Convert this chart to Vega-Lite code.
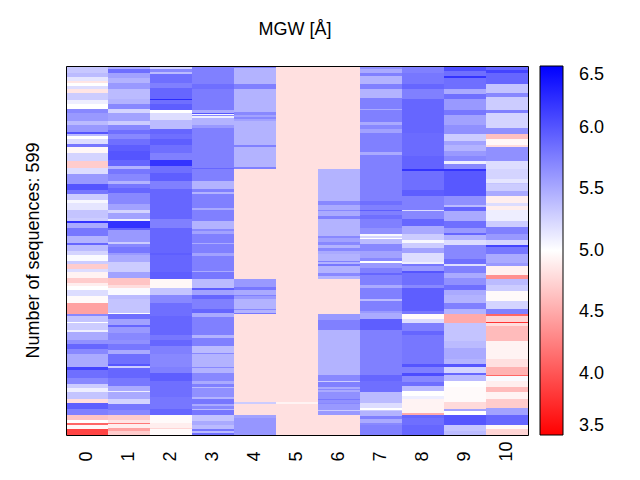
{"$schema":"https://vega.github.io/schema/vega-lite/v6.json","width":462,"height":369,"autosize":{"type":"none"},"padding":{"left":66,"top":66,"right":112,"bottom":45},"background":"white","view":{"stroke":null},"title":{"text":"MGW [Å]","font":"Liberation Sans","fontSize":18,"fontWeight":"normal","anchor":"middle","offset":27,"dx":-2,"color":"black"},"data":{"values":[
{"c":0,"a":0,"b":11,"v":5.33},{"c":0,"a":11,"b":18,"v":5.4},{"c":0,"a":18,"b":25,"v":5.15},{"c":0,"a":25,"b":28,"v":4.85},{"c":0,"a":28,"b":33,"v":5.0},{"c":0,"a":33,"b":38,"v":5.2},{"c":0,"a":38,"b":44,"v":4.85},{"c":0,"a":44,"b":55,"v":5.3},{"c":0,"a":55,"b":62,"v":5.1},{"c":0,"a":62,"b":70,"v":5.0},{"c":0,"a":70,"b":76,"v":5.7},{"c":0,"a":76,"b":90,"v":5.6},{"c":0,"a":90,"b":95,"v":5.4},{"c":0,"a":95,"b":107,"v":5.6},{"c":0,"a":107,"b":110,"v":6.0},{"c":0,"a":110,"b":114,"v":5.4},{"c":0,"a":114,"b":119,"v":5.0},{"c":0,"a":119,"b":127,"v":5.2},{"c":0,"a":127,"b":131,"v":5.8},{"c":0,"a":131,"b":141,"v":4.95},{"c":0,"a":141,"b":154,"v":5.25},{"c":0,"a":154,"b":165,"v":4.7},{"c":0,"a":165,"b":176,"v":5.2},{"c":0,"a":176,"b":192,"v":5.6},{"c":0,"a":192,"b":202,"v":6.0},{"c":0,"a":202,"b":207,"v":5.8},{"c":0,"a":207,"b":217,"v":5.3},{"c":0,"a":217,"b":222,"v":5.05},{"c":0,"a":222,"b":233,"v":5.15},{"c":0,"a":233,"b":246,"v":5.35},{"c":0,"a":246,"b":251,"v":5.3},{"c":0,"a":251,"b":255,"v":6.2},{"c":0,"a":255,"b":263,"v":5.5},{"c":0,"a":263,"b":276,"v":5.8},{"c":0,"a":276,"b":287,"v":5.45},{"c":0,"a":287,"b":290,"v":5.9},{"c":0,"a":290,"b":300,"v":5.4},{"c":0,"a":300,"b":307,"v":5.25},{"c":0,"a":307,"b":317,"v":5.03},{"c":0,"a":317,"b":321,"v":5.3},{"c":0,"a":321,"b":329,"v":4.7},{"c":0,"a":329,"b":334,"v":5.2},{"c":0,"a":334,"b":344,"v":4.93},{"c":0,"a":344,"b":352,"v":4.7},{"c":0,"a":352,"b":357,"v":4.9},{"c":0,"a":357,"b":364,"v":5.0},{"c":0,"a":364,"b":374,"v":5.2},{"c":0,"a":374,"b":384,"v":4.97},{"c":0,"a":384,"b":402,"v":4.45},{"c":0,"a":402,"b":406,"v":5.7},{"c":0,"a":406,"b":416,"v":5.35},{"c":0,"a":416,"b":418,"v":5.0},{"c":0,"a":418,"b":428,"v":5.3},{"c":0,"a":428,"b":431,"v":5.1},{"c":0,"a":431,"b":444,"v":5.5},{"c":0,"a":444,"b":452,"v":5.65},{"c":0,"a":452,"b":460,"v":5.9},{"c":0,"a":460,"b":468,"v":5.7},{"c":0,"a":468,"b":488,"v":5.5},{"c":0,"a":488,"b":493,"v":6.1},{"c":0,"a":493,"b":506,"v":5.85},{"c":0,"a":506,"b":517,"v":5.7},{"c":0,"a":517,"b":522,"v":5.3},{"c":0,"a":522,"b":530,"v":5.1},{"c":0,"a":530,"b":541,"v":5.35},{"c":0,"a":541,"b":547,"v":4.8},{"c":0,"a":547,"b":556,"v":5.95},{"c":0,"a":556,"b":566,"v":5.75},{"c":0,"a":566,"b":575,"v":4.65},{"c":0,"a":575,"b":580,"v":5.0},{"c":0,"a":580,"b":582,"v":4.1},{"c":0,"a":582,"b":590,"v":4.95},{"c":0,"a":590,"b":599,"v":3.9},
{"c":1,"a":0,"b":5,"v":5.5},{"c":1,"a":5,"b":11,"v":5.85},{"c":1,"a":11,"b":19,"v":5.55},{"c":1,"a":19,"b":27,"v":5.45},{"c":1,"a":27,"b":37,"v":5.6},{"c":1,"a":37,"b":54,"v":5.4},{"c":1,"a":54,"b":62,"v":5.45},{"c":1,"a":62,"b":70,"v":5.7},{"c":1,"a":70,"b":76,"v":5.25},{"c":1,"a":76,"b":90,"v":5.55},{"c":1,"a":90,"b":95,"v":5.3},{"c":1,"a":95,"b":104,"v":5.7},{"c":1,"a":104,"b":111,"v":5.85},{"c":1,"a":111,"b":119,"v":5.7},{"c":1,"a":119,"b":129,"v":5.85},{"c":1,"a":129,"b":138,"v":5.95},{"c":1,"a":138,"b":152,"v":6.0},{"c":1,"a":152,"b":162,"v":5.9},{"c":1,"a":162,"b":168,"v":5.45},{"c":1,"a":168,"b":176,"v":5.8},{"c":1,"a":176,"b":187,"v":5.7},{"c":1,"a":187,"b":192,"v":5.45},{"c":1,"a":192,"b":198,"v":5.8},{"c":1,"a":198,"b":206,"v":5.9},{"c":1,"a":206,"b":224,"v":5.7},{"c":1,"a":224,"b":233,"v":5.55},{"c":1,"a":233,"b":238,"v":5.25},{"c":1,"a":238,"b":249,"v":5.55},{"c":1,"a":249,"b":251,"v":5.1},{"c":1,"a":251,"b":263,"v":6.2},{"c":1,"a":263,"b":267,"v":5.9},{"c":1,"a":267,"b":276,"v":5.6},{"c":1,"a":276,"b":285,"v":5.6},{"c":1,"a":285,"b":289,"v":5.3},{"c":1,"a":289,"b":294,"v":5.7},{"c":1,"a":294,"b":303,"v":5.8},{"c":1,"a":303,"b":307,"v":5.6},{"c":1,"a":307,"b":318,"v":5.5},{"c":1,"a":318,"b":334,"v":5.3},{"c":1,"a":334,"b":344,"v":5.55},{"c":1,"a":344,"b":355,"v":4.65},{"c":1,"a":355,"b":360,"v":4.8},{"c":1,"a":360,"b":371,"v":5.03},{"c":1,"a":371,"b":379,"v":5.4},{"c":1,"a":379,"b":401,"v":5.35},{"c":1,"a":401,"b":403,"v":5.0},{"c":1,"a":403,"b":411,"v":5.85},{"c":1,"a":411,"b":420,"v":5.55},{"c":1,"a":420,"b":423,"v":5.9},{"c":1,"a":423,"b":433,"v":5.6},{"c":1,"a":433,"b":444,"v":5.7},{"c":1,"a":444,"b":452,"v":5.65},{"c":1,"a":452,"b":461,"v":5.8},{"c":1,"a":461,"b":468,"v":5.5},{"c":1,"a":468,"b":483,"v":5.85},{"c":1,"a":483,"b":487,"v":6.0},{"c":1,"a":487,"b":490,"v":5.3},{"c":1,"a":490,"b":506,"v":5.9},{"c":1,"a":506,"b":519,"v":5.8},{"c":1,"a":519,"b":528,"v":5.5},{"c":1,"a":528,"b":529,"v":5.1},{"c":1,"a":529,"b":540,"v":5.5},{"c":1,"a":540,"b":548,"v":5.25},{"c":1,"a":548,"b":558,"v":5.8},{"c":1,"a":558,"b":566,"v":5.7},{"c":1,"a":566,"b":574,"v":4.7},{"c":1,"a":574,"b":579,"v":4.85},{"c":1,"a":579,"b":581,"v":4.2},{"c":1,"a":581,"b":587,"v":4.9},{"c":1,"a":587,"b":593,"v":4.45},{"c":1,"a":593,"b":599,"v":4.7},
{"c":2,"a":0,"b":5,"v":5.25},{"c":2,"a":5,"b":9,"v":5.7},{"c":2,"a":9,"b":13,"v":5.4},{"c":2,"a":13,"b":28,"v":5.85},{"c":2,"a":28,"b":35,"v":5.75},{"c":2,"a":35,"b":54,"v":5.9},{"c":2,"a":54,"b":56,"v":6.25},{"c":2,"a":56,"b":62,"v":5.85},{"c":2,"a":62,"b":71,"v":5.95},{"c":2,"a":71,"b":76,"v":5.0},{"c":2,"a":76,"b":88,"v":5.2},{"c":2,"a":88,"b":103,"v":5.4},{"c":2,"a":103,"b":110,"v":5.9},{"c":2,"a":110,"b":119,"v":5.85},{"c":2,"a":119,"b":129,"v":5.95},{"c":2,"a":129,"b":141,"v":5.85},{"c":2,"a":141,"b":153,"v":5.75},{"c":2,"a":153,"b":163,"v":6.2},{"c":2,"a":163,"b":173,"v":5.85},{"c":2,"a":173,"b":187,"v":5.95},{"c":2,"a":187,"b":200,"v":5.75},{"c":2,"a":200,"b":249,"v":5.9},{"c":2,"a":249,"b":263,"v":5.75},{"c":2,"a":263,"b":303,"v":5.9},{"c":2,"a":303,"b":307,"v":5.95},{"c":2,"a":307,"b":334,"v":5.9},{"c":2,"a":334,"b":345,"v":5.95},{"c":2,"a":345,"b":360,"v":4.95},{"c":2,"a":360,"b":372,"v":5.35},{"c":2,"a":372,"b":384,"v":5.7},{"c":2,"a":384,"b":400,"v":5.85},{"c":2,"a":400,"b":406,"v":5.85},{"c":2,"a":406,"b":436,"v":5.9},{"c":2,"a":436,"b":444,"v":5.8},{"c":2,"a":444,"b":454,"v":5.9},{"c":2,"a":454,"b":468,"v":5.75},{"c":2,"a":468,"b":488,"v":5.7},{"c":2,"a":488,"b":498,"v":5.75},{"c":2,"a":498,"b":512,"v":5.95},{"c":2,"a":512,"b":537,"v":5.85},{"c":2,"a":537,"b":556,"v":5.8},{"c":2,"a":556,"b":566,"v":5.9},{"c":2,"a":566,"b":579,"v":4.97},{"c":2,"a":579,"b":587,"v":4.9},{"c":2,"a":587,"b":590,"v":4.75},{"c":2,"a":590,"b":599,"v":4.97},
{"c":3,"a":0,"b":30,"v":5.75},{"c":3,"a":30,"b":38,"v":5.85},{"c":3,"a":38,"b":71,"v":5.77},{"c":3,"a":71,"b":76,"v":5.5},{"c":3,"a":76,"b":78,"v":6.0},{"c":3,"a":78,"b":79,"v":5.05},{"c":3,"a":79,"b":81,"v":5.7},{"c":3,"a":81,"b":84,"v":5.1},{"c":3,"a":84,"b":95,"v":5.45},{"c":3,"a":95,"b":100,"v":5.6},{"c":3,"a":100,"b":165,"v":5.75},{"c":3,"a":165,"b":168,"v":5.9},{"c":3,"a":168,"b":187,"v":5.75},{"c":3,"a":187,"b":200,"v":5.45},{"c":3,"a":200,"b":204,"v":5.75},{"c":3,"a":204,"b":207,"v":5.45},{"c":3,"a":207,"b":231,"v":5.75},{"c":3,"a":231,"b":233,"v":5.5},{"c":3,"a":233,"b":251,"v":5.75},{"c":3,"a":251,"b":264,"v":5.45},{"c":3,"a":264,"b":268,"v":5.7},{"c":3,"a":268,"b":273,"v":5.55},{"c":3,"a":273,"b":287,"v":5.75},{"c":3,"a":287,"b":289,"v":5.5},{"c":3,"a":289,"b":303,"v":5.75},{"c":3,"a":303,"b":308,"v":5.55},{"c":3,"a":308,"b":333,"v":5.75},{"c":3,"a":333,"b":335,"v":5.5},{"c":3,"a":335,"b":345,"v":5.8},{"c":3,"a":345,"b":361,"v":5.4},{"c":3,"a":361,"b":364,"v":5.95},{"c":3,"a":364,"b":371,"v":5.55},{"c":3,"a":371,"b":379,"v":5.9},{"c":3,"a":379,"b":395,"v":5.75},{"c":3,"a":395,"b":401,"v":5.9},{"c":3,"a":401,"b":407,"v":5.5},{"c":3,"a":407,"b":436,"v":5.75},{"c":3,"a":436,"b":442,"v":5.45},{"c":3,"a":442,"b":454,"v":5.75},{"c":3,"a":454,"b":466,"v":5.4},{"c":3,"a":466,"b":468,"v":5.7},{"c":3,"a":468,"b":488,"v":5.45},{"c":3,"a":488,"b":490,"v":5.7},{"c":3,"a":490,"b":499,"v":5.45},{"c":3,"a":499,"b":512,"v":5.7},{"c":3,"a":512,"b":517,"v":5.5},{"c":3,"a":517,"b":521,"v":5.75},{"c":3,"a":521,"b":523,"v":5.4},{"c":3,"a":523,"b":537,"v":5.65},{"c":3,"a":537,"b":541,"v":5.45},{"c":3,"a":541,"b":548,"v":5.8},{"c":3,"a":548,"b":552,"v":5.5},{"c":3,"a":552,"b":556,"v":5.7},{"c":3,"a":556,"b":559,"v":5.4},{"c":3,"a":559,"b":566,"v":5.8},{"c":3,"a":566,"b":576,"v":5.35},{"c":3,"a":576,"b":582,"v":5.5},{"c":3,"a":582,"b":590,"v":5.4},{"c":3,"a":590,"b":592,"v":5.8},{"c":3,"a":592,"b":596,"v":5.4},{"c":3,"a":596,"b":599,"v":5.85},
{"c":4,"a":0,"b":4,"v":5.75},{"c":4,"a":4,"b":30,"v":5.45},{"c":4,"a":30,"b":38,"v":5.75},{"c":4,"a":38,"b":75,"v":5.45},{"c":4,"a":75,"b":79,"v":5.7},{"c":4,"a":79,"b":83,"v":5.55},{"c":4,"a":83,"b":86,"v":5.7},{"c":4,"a":86,"b":90,"v":5.55},{"c":4,"a":90,"b":129,"v":5.45},{"c":4,"a":129,"b":131,"v":5.75},{"c":4,"a":131,"b":164,"v":5.45},{"c":4,"a":164,"b":168,"v":5.75},{"c":4,"a":168,"b":345,"v":4.82},{"c":4,"a":345,"b":359,"v":5.6},{"c":4,"a":359,"b":363,"v":5.8},{"c":4,"a":363,"b":371,"v":5.5},{"c":4,"a":371,"b":374,"v":5.75},{"c":4,"a":374,"b":379,"v":5.6},{"c":4,"a":379,"b":394,"v":5.45},{"c":4,"a":394,"b":396,"v":5.7},{"c":4,"a":396,"b":401,"v":5.45},{"c":4,"a":401,"b":402,"v":5.8},{"c":4,"a":402,"b":546,"v":4.82},{"c":4,"a":546,"b":548,"v":5.3},{"c":4,"a":548,"b":566,"v":4.82},{"c":4,"a":566,"b":572,"v":5.55},{"c":4,"a":572,"b":599,"v":5.62},
{"c":5,"a":0,"b":546,"v":4.82},{"c":5,"a":546,"b":548,"v":4.93},{"c":5,"a":548,"b":599,"v":4.82},
{"c":6,"a":0,"b":168,"v":4.82},{"c":6,"a":168,"b":219,"v":5.45},{"c":6,"a":219,"b":226,"v":5.7},{"c":6,"a":226,"b":233,"v":5.5},{"c":6,"a":233,"b":235,"v":5.7},{"c":6,"a":235,"b":243,"v":5.5},{"c":6,"a":243,"b":248,"v":5.75},{"c":6,"a":248,"b":276,"v":5.45},{"c":6,"a":276,"b":280,"v":5.7},{"c":6,"a":280,"b":285,"v":5.55},{"c":6,"a":285,"b":291,"v":5.7},{"c":6,"a":291,"b":295,"v":5.45},{"c":6,"a":295,"b":300,"v":5.7},{"c":6,"a":300,"b":305,"v":5.5},{"c":6,"a":305,"b":316,"v":5.45},{"c":6,"a":316,"b":318,"v":5.75},{"c":6,"a":318,"b":322,"v":5.45},{"c":6,"a":322,"b":324,"v":5.8},{"c":6,"a":324,"b":336,"v":5.45},{"c":6,"a":336,"b":341,"v":5.7},{"c":6,"a":341,"b":345,"v":5.45},{"c":6,"a":345,"b":402,"v":4.82},{"c":6,"a":402,"b":413,"v":5.6},{"c":6,"a":413,"b":428,"v":5.75},{"c":6,"a":428,"b":502,"v":5.45},{"c":6,"a":502,"b":512,"v":5.7},{"c":6,"a":512,"b":513,"v":5.3},{"c":6,"a":513,"b":521,"v":5.75},{"c":6,"a":521,"b":524,"v":5.5},{"c":6,"a":524,"b":526,"v":5.7},{"c":6,"a":526,"b":530,"v":5.5},{"c":6,"a":530,"b":540,"v":5.65},{"c":6,"a":540,"b":542,"v":5.8},{"c":6,"a":542,"b":547,"v":5.65},{"c":6,"a":547,"b":549,"v":5.7},{"c":6,"a":549,"b":558,"v":5.6},{"c":6,"a":558,"b":560,"v":5.3},{"c":6,"a":560,"b":566,"v":5.6},{"c":6,"a":566,"b":599,"v":4.82},
{"c":7,"a":0,"b":5,"v":5.65},{"c":7,"a":5,"b":12,"v":5.5},{"c":7,"a":12,"b":16,"v":5.75},{"c":7,"a":16,"b":30,"v":5.45},{"c":7,"a":30,"b":38,"v":5.75},{"c":7,"a":38,"b":52,"v":5.45},{"c":7,"a":52,"b":70,"v":5.75},{"c":7,"a":70,"b":72,"v":5.5},{"c":7,"a":72,"b":91,"v":5.75},{"c":7,"a":91,"b":95,"v":5.5},{"c":7,"a":95,"b":103,"v":5.7},{"c":7,"a":103,"b":108,"v":5.55},{"c":7,"a":108,"b":139,"v":5.75},{"c":7,"a":139,"b":144,"v":5.5},{"c":7,"a":144,"b":219,"v":5.75},{"c":7,"a":219,"b":226,"v":5.85},{"c":7,"a":226,"b":233,"v":5.75},{"c":7,"a":233,"b":235,"v":5.95},{"c":7,"a":235,"b":242,"v":5.75},{"c":7,"a":242,"b":248,"v":5.85},{"c":7,"a":248,"b":263,"v":5.75},{"c":7,"a":263,"b":273,"v":5.65},{"c":7,"a":273,"b":276,"v":5.05},{"c":7,"a":276,"b":279,"v":5.25},{"c":7,"a":279,"b":281,"v":5.0},{"c":7,"a":281,"b":289,"v":5.4},{"c":7,"a":289,"b":300,"v":5.7},{"c":7,"a":300,"b":311,"v":5.55},{"c":7,"a":311,"b":317,"v":5.7},{"c":7,"a":317,"b":320,"v":5.0},{"c":7,"a":320,"b":328,"v":5.6},{"c":7,"a":328,"b":336,"v":5.75},{"c":7,"a":336,"b":339,"v":5.9},{"c":7,"a":339,"b":355,"v":5.75},{"c":7,"a":355,"b":361,"v":5.5},{"c":7,"a":361,"b":379,"v":5.75},{"c":7,"a":379,"b":381,"v":5.4},{"c":7,"a":381,"b":397,"v":5.75},{"c":7,"a":397,"b":401,"v":5.6},{"c":7,"a":401,"b":411,"v":5.5},{"c":7,"a":411,"b":428,"v":5.95},{"c":7,"a":428,"b":502,"v":5.75},{"c":7,"a":502,"b":512,"v":5.9},{"c":7,"a":512,"b":530,"v":5.85},{"c":7,"a":530,"b":547,"v":5.4},{"c":7,"a":547,"b":555,"v":5.2},{"c":7,"a":555,"b":558,"v":5.0},{"c":7,"a":558,"b":560,"v":5.3},{"c":7,"a":560,"b":568,"v":5.45},{"c":7,"a":568,"b":573,"v":5.75},{"c":7,"a":573,"b":580,"v":5.5},{"c":7,"a":580,"b":582,"v":5.7},{"c":7,"a":582,"b":599,"v":5.75},
{"c":8,"a":0,"b":11,"v":5.75},{"c":8,"a":11,"b":30,"v":5.8},{"c":8,"a":30,"b":38,"v":5.9},{"c":8,"a":38,"b":54,"v":5.75},{"c":8,"a":54,"b":108,"v":5.9},{"c":8,"a":108,"b":146,"v":5.87},{"c":8,"a":146,"b":167,"v":5.92},{"c":8,"a":167,"b":171,"v":6.2},{"c":8,"a":171,"b":202,"v":5.85},{"c":8,"a":202,"b":211,"v":5.95},{"c":8,"a":211,"b":233,"v":5.75},{"c":8,"a":233,"b":235,"v":5.2},{"c":8,"a":235,"b":249,"v":5.7},{"c":8,"a":249,"b":260,"v":5.9},{"c":8,"a":260,"b":273,"v":5.5},{"c":8,"a":273,"b":283,"v":5.3},{"c":8,"a":283,"b":287,"v":5.05},{"c":8,"a":287,"b":295,"v":5.3},{"c":8,"a":295,"b":303,"v":5.55},{"c":8,"a":303,"b":318,"v":5.2},{"c":8,"a":318,"b":321,"v":5.1},{"c":8,"a":321,"b":324,"v":5.8},{"c":8,"a":324,"b":333,"v":5.6},{"c":8,"a":333,"b":336,"v":6.0},{"c":8,"a":336,"b":355,"v":5.85},{"c":8,"a":355,"b":361,"v":5.7},{"c":8,"a":361,"b":397,"v":5.95},{"c":8,"a":397,"b":402,"v":5.8},{"c":8,"a":402,"b":411,"v":4.97},{"c":8,"a":411,"b":417,"v":5.2},{"c":8,"a":417,"b":430,"v":5.75},{"c":8,"a":430,"b":436,"v":5.9},{"c":8,"a":436,"b":467,"v":5.8},{"c":8,"a":467,"b":468,"v":6.0},{"c":8,"a":468,"b":483,"v":5.8},{"c":8,"a":483,"b":488,"v":6.0},{"c":8,"a":488,"b":499,"v":5.75},{"c":8,"a":499,"b":503,"v":6.05},{"c":8,"a":503,"b":513,"v":5.7},{"c":8,"a":513,"b":519,"v":5.85},{"c":8,"a":519,"b":528,"v":5.4},{"c":8,"a":528,"b":536,"v":5.0},{"c":8,"a":536,"b":540,"v":5.1},{"c":8,"a":540,"b":541,"v":4.7},{"c":8,"a":541,"b":564,"v":4.93},{"c":8,"a":564,"b":566,"v":4.5},{"c":8,"a":566,"b":571,"v":5.9},{"c":8,"a":571,"b":582,"v":5.85},{"c":8,"a":582,"b":599,"v":5.9},
{"c":9,"a":0,"b":8,"v":6.05},{"c":9,"a":8,"b":16,"v":5.85},{"c":9,"a":16,"b":19,"v":6.2},{"c":9,"a":19,"b":38,"v":5.85},{"c":9,"a":38,"b":46,"v":5.5},{"c":9,"a":46,"b":54,"v":5.85},{"c":9,"a":54,"b":71,"v":5.6},{"c":9,"a":71,"b":79,"v":5.8},{"c":9,"a":79,"b":95,"v":5.55},{"c":9,"a":95,"b":110,"v":5.65},{"c":9,"a":110,"b":121,"v":5.3},{"c":9,"a":121,"b":128,"v":5.55},{"c":9,"a":128,"b":138,"v":5.45},{"c":9,"a":138,"b":146,"v":5.6},{"c":9,"a":146,"b":155,"v":5.7},{"c":9,"a":155,"b":159,"v":5.1},{"c":9,"a":159,"b":167,"v":5.7},{"c":9,"a":167,"b":171,"v":6.2},{"c":9,"a":171,"b":211,"v":5.98},{"c":9,"a":211,"b":225,"v":5.65},{"c":9,"a":225,"b":229,"v":5.4},{"c":9,"a":229,"b":236,"v":5.9},{"c":9,"a":236,"b":252,"v":5.5},{"c":9,"a":252,"b":263,"v":5.85},{"c":9,"a":263,"b":271,"v":5.6},{"c":9,"a":271,"b":275,"v":5.9},{"c":9,"a":275,"b":282,"v":5.45},{"c":9,"a":282,"b":291,"v":5.2},{"c":9,"a":291,"b":314,"v":5.7},{"c":9,"a":314,"b":322,"v":5.85},{"c":9,"a":322,"b":324,"v":5.2},{"c":9,"a":324,"b":336,"v":5.75},{"c":9,"a":336,"b":344,"v":5.5},{"c":9,"a":344,"b":355,"v":5.65},{"c":9,"a":355,"b":363,"v":5.85},{"c":9,"a":363,"b":372,"v":5.5},{"c":9,"a":372,"b":384,"v":5.45},{"c":9,"a":384,"b":395,"v":5.75},{"c":9,"a":395,"b":402,"v":5.45},{"c":9,"a":402,"b":417,"v":4.5},{"c":9,"a":417,"b":447,"v":5.35},{"c":9,"a":447,"b":457,"v":5.4},{"c":9,"a":457,"b":476,"v":5.5},{"c":9,"a":476,"b":484,"v":5.45},{"c":9,"a":484,"b":488,"v":6.0},{"c":9,"a":488,"b":499,"v":5.25},{"c":9,"a":499,"b":502,"v":5.9},{"c":9,"a":502,"b":512,"v":5.4},{"c":9,"a":512,"b":521,"v":5.0},{"c":9,"a":521,"b":546,"v":4.97},{"c":9,"a":546,"b":556,"v":4.78},{"c":9,"a":556,"b":560,"v":5.55},{"c":9,"a":560,"b":566,"v":5.0},{"c":9,"a":566,"b":582,"v":6.0},{"c":9,"a":582,"b":593,"v":5.35},{"c":9,"a":593,"b":599,"v":5.4},
{"c":10,"a":0,"b":7,"v":5.9},{"c":10,"a":7,"b":12,"v":6.1},{"c":10,"a":12,"b":30,"v":5.9},{"c":10,"a":30,"b":44,"v":5.35},{"c":10,"a":44,"b":50,"v":5.7},{"c":10,"a":50,"b":71,"v":5.3},{"c":10,"a":71,"b":76,"v":5.75},{"c":10,"a":76,"b":100,"v":5.25},{"c":10,"a":100,"b":110,"v":5.65},{"c":10,"a":110,"b":118,"v":4.63},{"c":10,"a":118,"b":129,"v":4.95},{"c":10,"a":129,"b":131,"v":4.8},{"c":10,"a":131,"b":154,"v":5.65},{"c":10,"a":154,"b":168,"v":5.2},{"c":10,"a":168,"b":184,"v":5.25},{"c":10,"a":184,"b":190,"v":5.15},{"c":10,"a":190,"b":192,"v":5.35},{"c":10,"a":192,"b":203,"v":5.3},{"c":10,"a":203,"b":211,"v":5.5},{"c":10,"a":211,"b":222,"v":4.9},{"c":10,"a":222,"b":227,"v":5.2},{"c":10,"a":227,"b":233,"v":4.9},{"c":10,"a":233,"b":251,"v":5.1},{"c":10,"a":251,"b":262,"v":5.3},{"c":10,"a":262,"b":273,"v":5.75},{"c":10,"a":273,"b":282,"v":5.6},{"c":10,"a":282,"b":291,"v":5.25},{"c":10,"a":291,"b":294,"v":6.1},{"c":10,"a":294,"b":305,"v":5.8},{"c":10,"a":305,"b":319,"v":5.5},{"c":10,"a":319,"b":325,"v":5.6},{"c":10,"a":325,"b":339,"v":4.92},{"c":10,"a":339,"b":345,"v":4.35},{"c":10,"a":345,"b":355,"v":5.4},{"c":10,"a":355,"b":365,"v":5.3},{"c":10,"a":365,"b":382,"v":4.97},{"c":10,"a":382,"b":395,"v":5.25},{"c":10,"a":395,"b":402,"v":5.75},{"c":10,"a":402,"b":406,"v":4.1},{"c":10,"a":406,"b":416,"v":4.75},{"c":10,"a":416,"b":418,"v":3.8},{"c":10,"a":418,"b":422,"v":4.8},{"c":10,"a":422,"b":447,"v":4.6},{"c":10,"a":447,"b":476,"v":4.93},{"c":10,"a":476,"b":488,"v":4.82},{"c":10,"a":488,"b":502,"v":4.55},{"c":10,"a":502,"b":504,"v":4.1},{"c":10,"a":504,"b":512,"v":5.03},{"c":10,"a":512,"b":521,"v":4.9},{"c":10,"a":521,"b":529,"v":4.6},{"c":10,"a":529,"b":540,"v":4.93},{"c":10,"a":540,"b":555,"v":4.7},{"c":10,"a":555,"b":566,"v":5.55},{"c":10,"a":566,"b":582,"v":5.9},{"c":10,"a":582,"b":590,"v":4.95},{"c":10,"a":590,"b":599,"v":4.75}
]},"layer":[{"mark":{"type":"rect","stroke":null},"encoding":{"x":{"field":"c","type":"ordinal","scale":{"domain":[0,1,2,3,4,5,6,7,8,9,10],"paddingInner":0,"paddingOuter":0},"axis":{"title":null,"orient":"bottom","domain":true,"domainColor":"black","domainWidth":1,"ticks":false,"grid":false,"labelAngle":-90,"labelAlign":"left","labelBaseline":"middle","labelPadding":26,"labelFont":"Liberation Sans","labelFontSize":18,"labelColor":"black","zindex":1}},"y":{"field":"a","type":"quantitative","scale":{"domain":[0,599],"reverse":true,"round":true,"nice":false,"zero":false},"axis":{"title":"Number of sequences: 599","titleFont":"Liberation Sans","titleFontSize":18,"titleFontWeight":"normal","titleColor":"black","titleAnchor":"middle","titleX":-33,"titleY":184,"titleAngle":-90,"titleBaseline":"middle","orient":"left","domain":true,"domainColor":"black","domainWidth":1,"ticks":false,"labels":false,"grid":false,"zindex":1}},"y2":{"field":"b"},"color":{"field":"v","type":"quantitative","scale":{"domain":[3.5,5,6.5],"range":["#ff0000","#ffffff","#0000ff"],"interpolate":"rgb"},"legend":{"title":null,"orient":"none","legendX":474,"legendY":0,"direction":"vertical","type":"gradient","gradientLength":369,"gradientThickness":23,"gradientStrokeColor":"black","gradientStrokeWidth":1,"values":[3.5,4,4.5,5,5.5,6,6.5],"labelFont":"Liberation Sans","labelFontSize":18,"labelColor":"black","labelBaseline":"middle","labelOffset":16,"labelOverlap":false,"tickCount":7}}}},{"transform":[{"filter":"datum.c === 5"}],"mark":{"type":"rect","stroke":null},"encoding":{"x":{"field":"c","type":"ordinal","axis":{"title":null,"orient":"top","domain":true,"domainColor":"black","domainWidth":1,"ticks":false,"labels":false,"grid":false,"zindex":1}},"y":{"field":"a","type":"quantitative","axis":{"title":null,"orient":"right","domain":true,"domainColor":"black","domainWidth":1,"ticks":false,"labels":false,"grid":false,"zindex":1}},"y2":{"field":"b"},"color":{"field":"v","type":"quantitative"}}}],"resolve":{"axis":{"x":"independent","y":"independent"}}}
